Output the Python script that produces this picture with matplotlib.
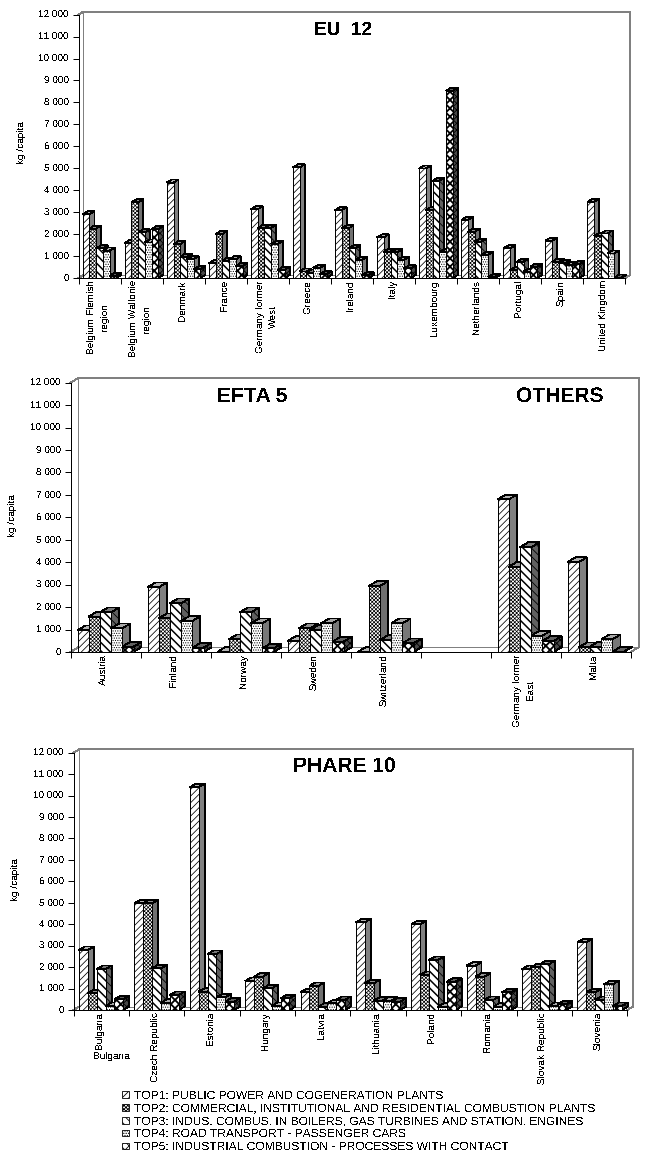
import matplotlib
matplotlib.use("Agg")
import matplotlib.pyplot as plt
from matplotlib.patches import Patch, Polygon
from matplotlib.ticker import FuncFormatter

plt.rcParams['font.family'] = ['Liberation Sans', 'DejaVu Sans']
plt.rcParams['text.antialiased'] = False
plt.rcParams['text.hinting'] = 'none'
plt.rcParams['text.hinting_factor'] = 1
plt.rcParams['hatch.linewidth'] = 0.6

W, H = 648, 1156
fig = plt.figure(figsize=(W / 100, H / 100), dpi=100, facecolor='white')

SERIES = [
    "TOP1: PUBLIC POWER AND COGENERATION PLANTS",
    "TOP2: COMMERCIAL, INSTITUTIONAL AND RESIDENTIAL COMBUSTION PLANTS",
    "TOP3: INDUS. COMBUS. IN BOILERS, GAS TURBINES AND STATION. ENGINES",
    "TOP4: ROAD TRANSPORT - PASSENGER CARS",
    "TOP5: INDUSTRIAL COMBUSTION - PROCESSES WITH CONTACT",
]

EU_COUNTRIES = ["Belgium Flemish\nregion", "Belgium Wallonie\nregion", "Denmark", "France",
                "Germany former\nWest", "Greece", "Ireland", "Italy", "Luxembourg",
                "Netherlands", "Portugal", "Spain", "United Kingdom"]
EU_TOP1 = [2900, 1600, 4350, 670, 3130, 5040, 3090, 1850, 4990, 2640, 1350, 1700, 3470]
EU_TOP2 = [2250, 3450, 1550, 2000, 2280, 300, 2260, 1200, 3100, 2110, 360, 740, 1910]
EU_TOP3 = [1350, 2080, 970, 790, 2280, 250, 1350, 1170, 4430, 1650, 740, 670, 2030]
EU_TOP4 = [1250, 1620, 860, 850, 1550, 460, 820, 820, 1170, 1050, 290, 590, 1120]
EU_TOP5 = [100, 2230, 400, 550, 370, 170, 130, 440, 8530, 50, 520, 620, 20]

EFTA_COUNTRIES = ["Austria", "Finland", "Norway", "Sweden", "Switzerland", "",
                  "Germany former\nEast", "Malta"]
EFTA_TOP1 = [970, 2880, 10, 490, 0, 0, 6800, 4010]
EFTA_TOP2 = [1575, 1500, 565, 1055, 2940, 0, 3800, 210]
EFTA_TOP3 = [1770, 2170, 1770, 980, 535, 0, 4670, 240]
EFTA_TOP4 = [1055, 1380, 1280, 1280, 1280, 0, 730, 565]
EFTA_TOP5 = [240, 190, 160, 460, 390, 0, 490, 10]

PHARE_COUNTRIES = ["Bulgaria", "Czech Republic", "Estonia", "Hungary", "Latvia",
                   "Lithuania", "Poland", "Romania", "Slovak Republic", "Slovenia"]
PHARE_TOP1 = [2800, 4980, 10390, 1350, 825, 4090, 4000, 2070, 1910, 3160]
PHARE_TOP2 = [780, 4980, 855, 1555, 1120, 1245, 1630, 1555, 1990, 825]
PHARE_TOP3 = [1910, 1945, 2610, 1010, 155, 435, 2330, 470, 2130, 470]
PHARE_TOP4 = [190, 340, 590, 190, 310, 435, 155, 155, 190, 1200]
PHARE_TOP5 = [500, 700, 390, 545, 470, 390, 1320, 825, 270, 190]

Y_MAX = 12000
Y_STEP = 1000

# (hatch, hatch width, side colour, top colour, side hatch)
STYLES = [
    ('/////', 0.55, '#808080', '#b4b4b4', None),
    ('xxxxxxxxx', 0.5, '#707070', '#909090', None),
    ('\\\\\\\\', 1.1, '#606060', '#787878', '\\\\\\\\'),
    ('.......', 0.5, '#787878', '#a8a8a8', None),
    ('xxxx', 1.3, '#484848', '#606060', 'xxxxx'),
]
EDGE = 0.6


def panel(x0, x1, y_base, y_top, depth_x, depth_y, countries, series):
    n = len(countries)
    ax = fig.add_axes([x0 / W, 1 - y_base / H, (x1 - x0) / W, (y_base - y_top) / H])
    ax.set_xlim(0, n)
    ax.set_ylim(0, Y_MAX)
    ax.patch.set_alpha(0)
    for s in ('top', 'right'):
        ax.spines[s].set_visible(False)
    for s in ('left', 'bottom'):
        ax.spines[s].set_linewidth(0.72)
        ax.spines[s].set_antialiased(False)

    dx = depth_x * n / (x1 - x0)
    dy = depth_y * Y_MAX / (y_base - y_top)

    # back walls
    wall = dict(color='#808080', lw=0.72, clip_on=False, zorder=1, antialiased=False)
    ax.plot([0, dx, n + dx, n + dx, n], [Y_MAX, Y_MAX + dy, Y_MAX + dy, dy, 0], **wall)
    ax.plot([0, dx, dx], [0, dy, Y_MAX + dy], **wall)
    ax.plot([dx, n + dx], [dy, dy], **wall)

    # bars: gap of 1.25 bar widths per category
    width = 1 / 6.25
    z = 2
    for c in range(n):
        if countries[c] == "":
            continue
        for s, vals in enumerate(series):
            v = vals[c]
            hatch, hatch_w, side, top, side_hatch = STYLES[s]
            left = c + 0.1 + width * s
            right = left + width
            side_patch = Polygon([(right, 0), (right + dx, dy), (right + dx, v + dy), (right, v)],
                                 closed=True, facecolor=side, edgecolor='black', lw=EDGE,
                                 hatch=side_hatch, clip_on=False, zorder=z, antialiased=False)
            top_patch = Polygon([(left, v), (left + dx, v + dy), (right + dx, v + dy), (right, v)],
                                closed=True, facecolor=top, edgecolor='black', lw=EDGE,
                                clip_on=False, zorder=z, antialiased=False)
            ax.add_patch(side_patch)
            ax.add_patch(top_patch)
            bars = ax.bar(left, v, width=width, align='edge', facecolor='white', edgecolor='black',
                          lw=EDGE, hatch=hatch, clip_on=False, zorder=z + 1, antialiased=False)
            for p in bars:
                if hasattr(p, 'set_hatch_linewidth'):
                    p.set_hatch_linewidth(hatch_w)
            z += 2

    ax.set_yticks(range(0, Y_MAX + 1, Y_STEP))
    ax.yaxis.set_major_formatter(FuncFormatter(lambda v, _: f"{int(v):,}".replace(",", " ")))
    ax.tick_params(axis='y', length=4, width=0.72, pad=3, labelsize=7)
    ax.set_xticks(range(n + 1))
    ax.set_xticklabels([])
    ax.tick_params(axis='x', which='major', length=4, width=0.72)
    ax.set_xticks([c + 0.47 for c in range(n)], minor=True)
    ax.set_xticklabels(countries, minor=True, rotation=90, fontsize=7, ha='center', va='top',
                       multialignment='center', linespacing=1.55)
    ax.tick_params(axis='x', which='minor', length=0, pad=1.5)
    return ax


def page_text(x, y, s, **kw):
    fig.text(x / W, 1 - y / H, s, ha='center', va='center', **kw)


panel(78.5, 625.3, 278, 14.6, 5, 3, EU_COUNTRIES, [EU_TOP1, EU_TOP2, EU_TOP3, EU_TOP4, EU_TOP5])
panel(70.5, 630.7, 652, 382.7, 8, 4.8, EFTA_COUNTRIES, [EFTA_TOP1, EFTA_TOP2, EFTA_TOP3, EFTA_TOP4, EFTA_TOP5])
panel(73.5, 627.3, 1010, 752.7, 6, 3.5, PHARE_COUNTRIES, [PHARE_TOP1, PHARE_TOP2, PHARE_TOP3, PHARE_TOP4, PHARE_TOP5])

page_text(343, 30, "EU  12", fontsize=13.5, fontweight='bold')
page_text(252, 396, "EFTA 5", fontsize=15, fontweight='bold')
page_text(560, 396, "OTHERS", fontsize=15, fontweight='bold')
page_text(344, 766, "PHARE 10", fontsize=14.8, fontweight='bold')

for x, y in [(21, 143), (12, 516), (15, 880)]:
    page_text(x, y, "kg /capita", rotation=90, fontsize=7)

page_text(112, 1056, "Bulgaria", fontsize=7)

handles = [Patch(facecolor='white', edgecolor='black', hatch=st[0], lw=0.6, antialiased=False) for st in STYLES]
fig.legend(handles, SERIES, loc='upper left', bbox_to_anchor=(122 / W, 1 - 1090 / H),
           bbox_transform=fig.transFigure, frameon=False, fontsize=8.35, handlelength=0.62,
           handleheight=0.5, handletextpad=0.4, labelspacing=0.14, borderpad=0, borderaxespad=0)

fig.savefig("out.png", dpi=100, facecolor='white')
